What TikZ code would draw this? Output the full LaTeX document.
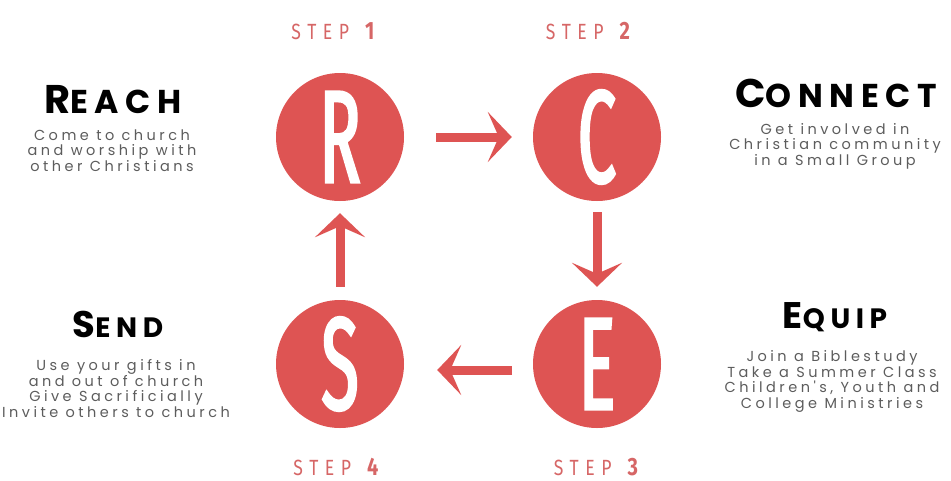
\documentclass[tikz,border=0pt]{standalone}
\usepackage{fontspec}
\usetikzlibrary{arrows.meta, positioning}
\definecolor{rosered}{HTML}{DE5453}
\definecolor{steppink}{HTML}{D66666}
\definecolor{textgray}{HTML}{5C5C5C}
\newfontfamily\headfont[LetterSpace=20]{Poppins}
\newfontfamily\bodyfont[LetterSpace=24]{Poppins}
\newfontfamily\stepfont[FakeStretch=0.8,LetterSpace=30]{Fira Sans}
\newfontfamily\letterfont[FakeStretch=0.52,FakeBold=1.8]{Fira Sans}
\newcommand{\headtext}[4]{{\fontsize{#1}{#1}\selectfont #3}{\fontsize{#2}{#2}\selectfont #4}}
\newcommand{\steptext}[1]{{\fontsize{22}{22}\selectfont STEP}\hspace{16pt}{\fontsize{25}{25}\selectfont\bfseries #1}}
\tikzstyle{stage} = [circle, fill=rosered, text=white, inner sep=0pt, minimum size=128pt,
    font=\letterfont\fontsize{132}{132}\selectfont]
\tikzstyle{steplabel} = [anchor=base, text=steppink, inner sep=0pt, font=\stepfont]
\tikzstyle{title} = [anchor=base, inner sep=0pt, font=\headfont\bfseries]
\tikzstyle{info} = [anchor=base, inner sep=0pt, align=center, text=textgray,
    font=\bodyfont\fontsize{14.5}{15.5}\selectfont]
\tikzstyle{line} = [draw=rosered, line width=9pt, -{Stealth[length=24pt, width=50pt, inset=11pt]}]

\begin{document}
\begin{tikzpicture}[x=1pt, y=-1pt]
        \useasboundingbox (0,0) rectangle (951,480);
        % Place nodes
        \node [stage] (R) at (340,137) {R};
        \node [stage] (C) at (597,137) {C};
        \node [stage] (E) at (597,364) {E};
        \node [stage] (S) at (340,364) {S};
        % Step labels
        \node [steplabel] (step1) at (333,39) {\steptext{1}};
        \node [steplabel] (step2) at (588,39) {\steptext{2}};
        \node [steplabel] (step3) at (596,475) {\steptext{3}};
        \node [steplabel] (step4) at (336,475) {\steptext{4}};
        % Titles
        \node [title] (reach) at (113,113) {\headtext{40}{33}{R}{EACH}};
        \node [title] (connect) at (836,107) {\headtext{40}{33}{C}{ONNECT}};
        \node [title] (send) at (118,337) {\headtext{37}{28}{S}{END}};
        \node [title] (equip) at (835,328) {\headtext{37}{28}{E}{QUIP}};
        % Info nodes (base = last line)
        \node [info] (reach_info) at (112,171) {
            Come to church\\ and worship with\\ other Christians
        };
        \node [info] (connect_info) at (835,165) {
            Get involved in\\ Christian community\\ in a Small Group
        };
        \node [info] (send_info) at (116,417) {
            Use your gifts in\\ and out of church\\ Give Sacrificially\\ Invite others to church
        };
        \node [info] (equip_info) at (832,408) {
            Join a Biblestudy\\ Take a Summer Class\\ Children's, Youth and\\ College Ministries
        };
        % Draw edges
        \path [line, shorten <=32pt, shorten >=21pt] (R.east) -- (C.west);
        \path [line, shorten <=11pt, shorten >=13pt] (C.south) -- (E.north);
        \path [line, shorten <=21pt, shorten >=33pt] ([yshift=-6pt]E.west) -- ([yshift=-6pt]S.east);
        \path [line, shorten <=13pt, shorten >=12pt] (S.north) -- (R.south);
    \end{tikzpicture}
\end{document}
